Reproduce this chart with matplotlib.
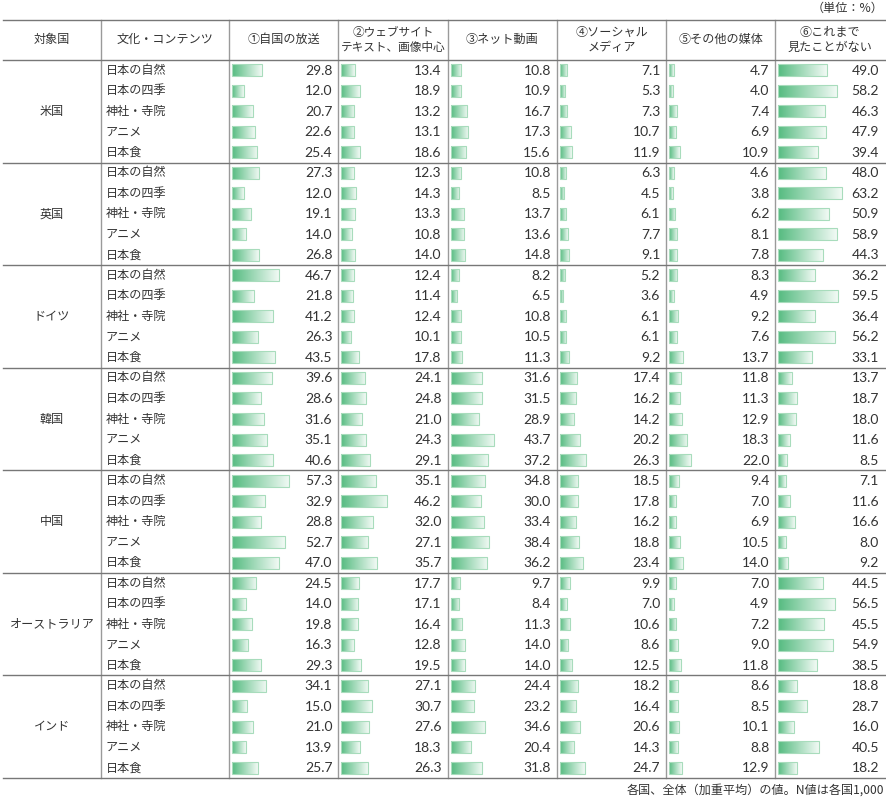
import numpy as np
import matplotlib.pyplot as plt
from matplotlib.colors import LinearSegmentedColormap

plt.rcParams['font.family'] = ['Noto Sans CJK JP', 'DejaVu Sans']

countries = ["米国", "英国", "ドイツ", "韓国", "中国", "オーストラリア", "インド"]
contents = ["日本の自然", "日本の四季", "神社・寺院", "アニメ", "日本食"]
headers = ["対象国", "文化・コンテンツ", "①自国の放送", "②ウェブサイト\nテキスト、画像中心",
           "③ネット動画", "④ソーシャル\nメディア", "⑤その他の媒体", "⑥これまで\n見たことがない"]

# one list per medium, 5 contents x 7 countries in order
broadcast = [29.8, 12.0, 20.7, 22.6, 25.4, 27.3, 12.0, 19.1, 14.0, 26.8,
             46.7, 21.8, 41.2, 26.3, 43.5, 39.6, 28.6, 31.6, 35.1, 40.6,
             57.3, 32.9, 28.8, 52.7, 47.0, 24.5, 14.0, 19.8, 16.3, 29.3,
             34.1, 15.0, 21.0, 13.9, 25.7]
website = [13.4, 18.9, 13.2, 13.1, 18.6, 12.3, 14.3, 13.3, 10.8, 14.0,
           12.4, 11.4, 12.4, 10.1, 17.8, 24.1, 24.8, 21.0, 24.3, 29.1,
           35.1, 46.2, 32.0, 27.1, 35.7, 17.7, 17.1, 16.4, 12.8, 19.5,
           27.1, 30.7, 27.6, 18.3, 26.3]
video = [10.8, 10.9, 16.7, 17.3, 15.6, 10.8, 8.5, 13.7, 13.6, 14.8,
         8.2, 6.5, 10.8, 10.5, 11.3, 31.6, 31.5, 28.9, 43.7, 37.2,
         34.8, 30.0, 33.4, 38.4, 36.2, 9.7, 8.4, 11.3, 14.0, 14.0,
         24.4, 23.2, 34.6, 20.4, 31.8]
social = [7.1, 5.3, 7.3, 10.7, 11.9, 6.3, 4.5, 6.1, 7.7, 9.1,
          5.2, 3.6, 6.1, 6.1, 9.2, 17.4, 16.2, 14.2, 20.2, 26.3,
          18.5, 17.8, 16.2, 18.8, 23.4, 9.9, 7.0, 10.6, 8.6, 12.5,
          18.2, 16.4, 20.6, 14.3, 24.7]
other = [4.7, 4.0, 7.4, 6.9, 10.9, 4.6, 3.8, 6.2, 8.1, 7.8,
         8.3, 4.9, 9.2, 7.6, 13.7, 11.8, 11.3, 12.9, 18.3, 22.0,
         9.4, 7.0, 6.9, 10.5, 14.0, 7.0, 4.9, 7.2, 9.0, 11.8,
         8.6, 8.5, 10.1, 8.8, 12.9]
never = [49.0, 58.2, 46.3, 47.9, 39.4, 48.0, 63.2, 50.9, 58.9, 44.3,
         36.2, 59.5, 36.4, 56.2, 33.1, 13.7, 18.7, 18.0, 11.6, 8.5,
         7.1, 11.6, 16.6, 8.0, 9.2, 44.5, 56.5, 45.5, 54.9, 38.5,
         18.8, 28.7, 16.0, 40.5, 18.2]
series = [broadcast, website, video, social, other, never]

# layout in pixel units
W, H = 887, 798
col_edges = [3, 101, 229, 338.3, 447.6, 556.9, 666.2, 775.5, 885]
top, head_bot, bottom = 19.5, 60, 778
n_rows = len(countries) * len(contents)
row_h = (bottom - head_bot) / n_rows
bar_h = 12
txt = '#333333'
fs = 8.7

fig = plt.figure(figsize=(W / 100, H / 100), dpi=100)
ax = fig.add_axes([0, 0, 1, 1])
ax.set_axis_off()

cmap = LinearSegmentedColormap.from_list('g', ['#55bb80', '#f2faf5'])
grad = np.linspace(0, 1, 256).reshape(1, -1)

row_centers = head_bot + row_h * (np.arange(n_rows) + 0.5)

for j, vals in enumerate(series):
    left = col_edges[j + 2]
    right = col_edges[j + 3]
    bars = ax.barh(row_centers, vals, left=left + 3, height=bar_h,
                   facecolor='none', edgecolor='#a8dcbc', linewidth=0.8, zorder=3)
    for b, v, yc in zip(bars, vals, row_centers):
        x0, y0 = b.get_x(), b.get_y()
        ax.imshow(grad, extent=(x0, x0 + b.get_width(), y0 + b.get_height(), y0),
                  aspect='auto', cmap=cmap, zorder=2, interpolation='bilinear')
        ax.text(right - 6, yc + 0.5, f"{v:.1f}", ha='right', va='center',
                fontsize=10, color=txt, family=['Lato', 'DejaVu Sans'])

# labels
for i, c in enumerate(countries):
    g0 = head_bot + i * len(contents) * row_h
    ax.text((col_edges[0] + col_edges[1]) / 2, g0 + len(contents) * row_h / 2, c,
            ha='center', va='center', fontsize=fs, color=txt)
    for k, name in enumerate(contents):
        ax.text(col_edges[1] + 5, row_centers[i * len(contents) + k], name,
                ha='left', va='center', fontsize=fs, color=txt)

for j, h in enumerate(headers):
    ax.text((col_edges[j] + col_edges[j + 1]) / 2, (top + head_bot) / 2, h,
            ha='center', va='center', fontsize=fs if j != 3 else 8.4,
            color=txt, linespacing=1.15)

# grid lines
for x in col_edges[1:-1]:
    ax.plot([x, x], [top, bottom], color='#9a9a9a', lw=1.0, zorder=4)
group_lines = [head_bot + i * len(contents) * row_h for i in range(len(countries) + 1)]
for y in [top] + group_lines:
    ax.plot([col_edges[0], col_edges[-1]], [y, y], color='#777777', lw=1.0, zorder=4)

ax.text(884, 8, "（単位：%）", ha='right', va='center', fontsize=fs, color=txt)
ax.text(884, 790, "各国、全体（加重平均）の値。N値は各国1,000", ha='right', va='center',
        fontsize=fs, color=txt)

ax.set_xlim(0, W)
ax.set_ylim(H, 0)
fig.savefig('out.png', dpi=100)
